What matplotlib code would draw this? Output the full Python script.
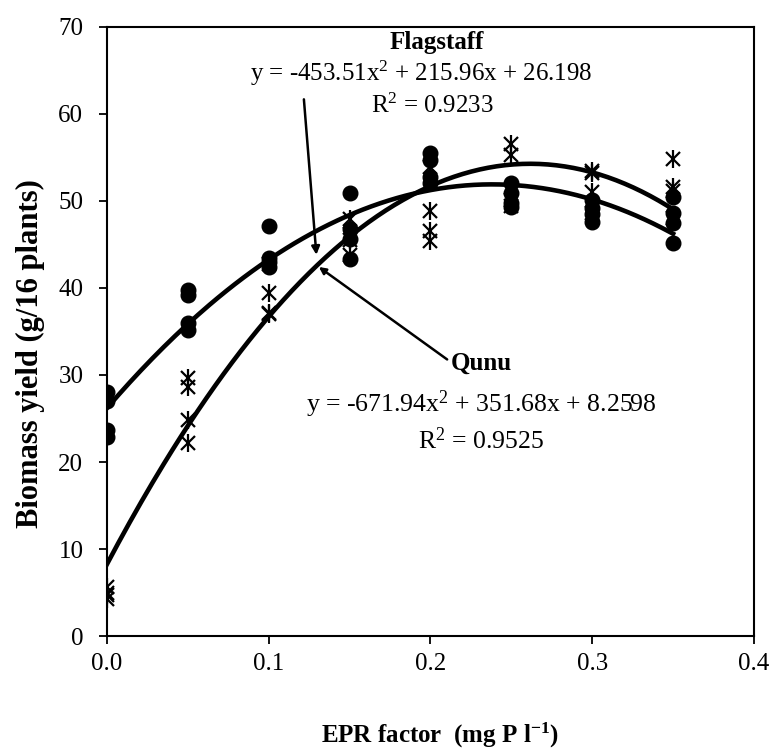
import numpy as np
import matplotlib
matplotlib.use("Agg")
import matplotlib.pyplot as plt

plt.rcParams['font.family'] = ['Liberation Serif', 'DejaVu Serif']
plt.rcParams['mathtext.fontset'] = 'custom'
plt.rcParams['mathtext.rm'] = 'Liberation Serif'
plt.rcParams['mathtext.it'] = 'Liberation Serif:italic'
plt.rcParams['mathtext.bf'] = 'Liberation Serif:bold'

# EPR factor levels (mg P/l)
epr = [0.0, 0.05, 0.1, 0.15, 0.2, 0.25, 0.3, 0.35]

# biomass yield (g/16 plants), four readings per level
flagstaff = [
    [28.0, 27.0, 23.7, 22.9],
    [39.8, 39.2, 36.0, 35.2],
    [47.1, 43.4, 43.0, 42.4],
    [50.9, 46.8, 45.6, 43.3],
    [55.5, 54.7, 52.8, 52.1],
    [52.1, 50.9, 49.8, 49.3],
    [50.1, 49.2, 48.5, 47.6],
    [50.5, 48.6, 47.5, 45.2],
]
qunu = [
    [5.6, 5.0, 4.7, 4.2],
    [29.7, 28.6, 24.8, 22.2],
    [42.8, 39.4, 37.1, 37.0],
    [47.9, 46.2, 45.5, 43.8],
    [53.9, 48.8, 46.6, 45.4],
    [56.6, 55.3, 50.1, 49.4],
    [53.5, 53.2, 51.0, 48.6],
    [54.8, 51.6, 51.2, 48.0],
]

# quadratic trendline coefficients (a, b, c)
flag_fit = [-453.51, 215.96, 26.198]
qunu_fit = [-671.94, 351.68, 8.2598]

fig = plt.figure(figsize=(7.73, 7.51), dpi=100)
ax = fig.add_axes([0.1384, 0.1531, 0.837, 0.811])

for x, ys in zip(epr, flagstaff):
    ax.plot([x]*len(ys), ys, 'o', color='black', markersize=10.5, zorder=3)
for x, ys in zip(epr, qunu):
    ax.plot([x]*len(ys), ys, 'x', color='black', markersize=10.5, mew=1.6, zorder=3)
    ax.plot([x]*len(ys), ys, '|', color='black', markersize=13, mew=1.6, zorder=3)

xf = np.linspace(0, 0.35, 200)
ax.plot(xf, np.polyval(flag_fit, xf), color='black', lw=3.3, zorder=2)
ax.plot(xf, np.polyval(qunu_fit, xf), color='black', lw=3.3, zorder=2)

ax.set_xlim(0, 0.4)
ax.set_ylim(0, 70)
ax.set_xticks([0, 0.1, 0.2, 0.3, 0.4])
ax.set_xticklabels(['0.0', '0.1', '0.2', '0.3', '0.4'])
ax.set_yticks(range(0, 71, 10))
ax.tick_params(direction='out', length=6, width=1.3, labelsize=18)
ax.tick_params(axis='y', pad=11)
ax.tick_params(axis='x', pad=6)
for s in ax.spines.values():
    s.set_linewidth(1.5)

ax.set_xlabel('EPR factor  (mg P l$^{\\mathbf{-1}}$)', fontsize=18, fontweight='bold')
ax.xaxis.set_label_coords(0.515, -0.14)
ax.set_ylabel('Biomass yield (g/16 plants)', fontsize=22, fontweight='bold')
ax.yaxis.set_label_coords(-0.119, 0.463)
ax.yaxis.label.set_va('center')

# trendline labels
ax.text(0.204, 68.2, 'Flagstaff', ha='center', va='center', fontsize=18, fontweight='bold')
ax.text(0.194, 64.7, 'y = -453.51x$^2$ + 215.96x + 26.198', ha='center', va='center', fontsize=18)
ax.text(0.201, 60.9, 'R$^2$ = 0.9233', ha='center', va='center', fontsize=18)
ax.annotate('', xy=(0.1296, 43.5), xytext=(0.1216, 62.0),
            arrowprops=dict(arrowstyle='-|>', color='black', lw=1.8, mutation_scale=12))

ax.text(0.2315, 31.3, 'Qunu', ha='center', va='center', fontsize=18, fontweight='bold')
ax.text(0.2315, 26.6, 'y = -671.94x$^2$ + 351.68x + 8.2598', ha='center', va='center', fontsize=18.5)
ax.text(0.2315, 22.5, 'R$^2$ = 0.9525', ha='center', va='center', fontsize=18.5)
ax.annotate('', xy=(0.1296, 42.6), xytext=(0.2117, 31.6),
            arrowprops=dict(arrowstyle='-|>', color='black', lw=1.8, mutation_scale=10))

fig.savefig('out.png', dpi=100)
